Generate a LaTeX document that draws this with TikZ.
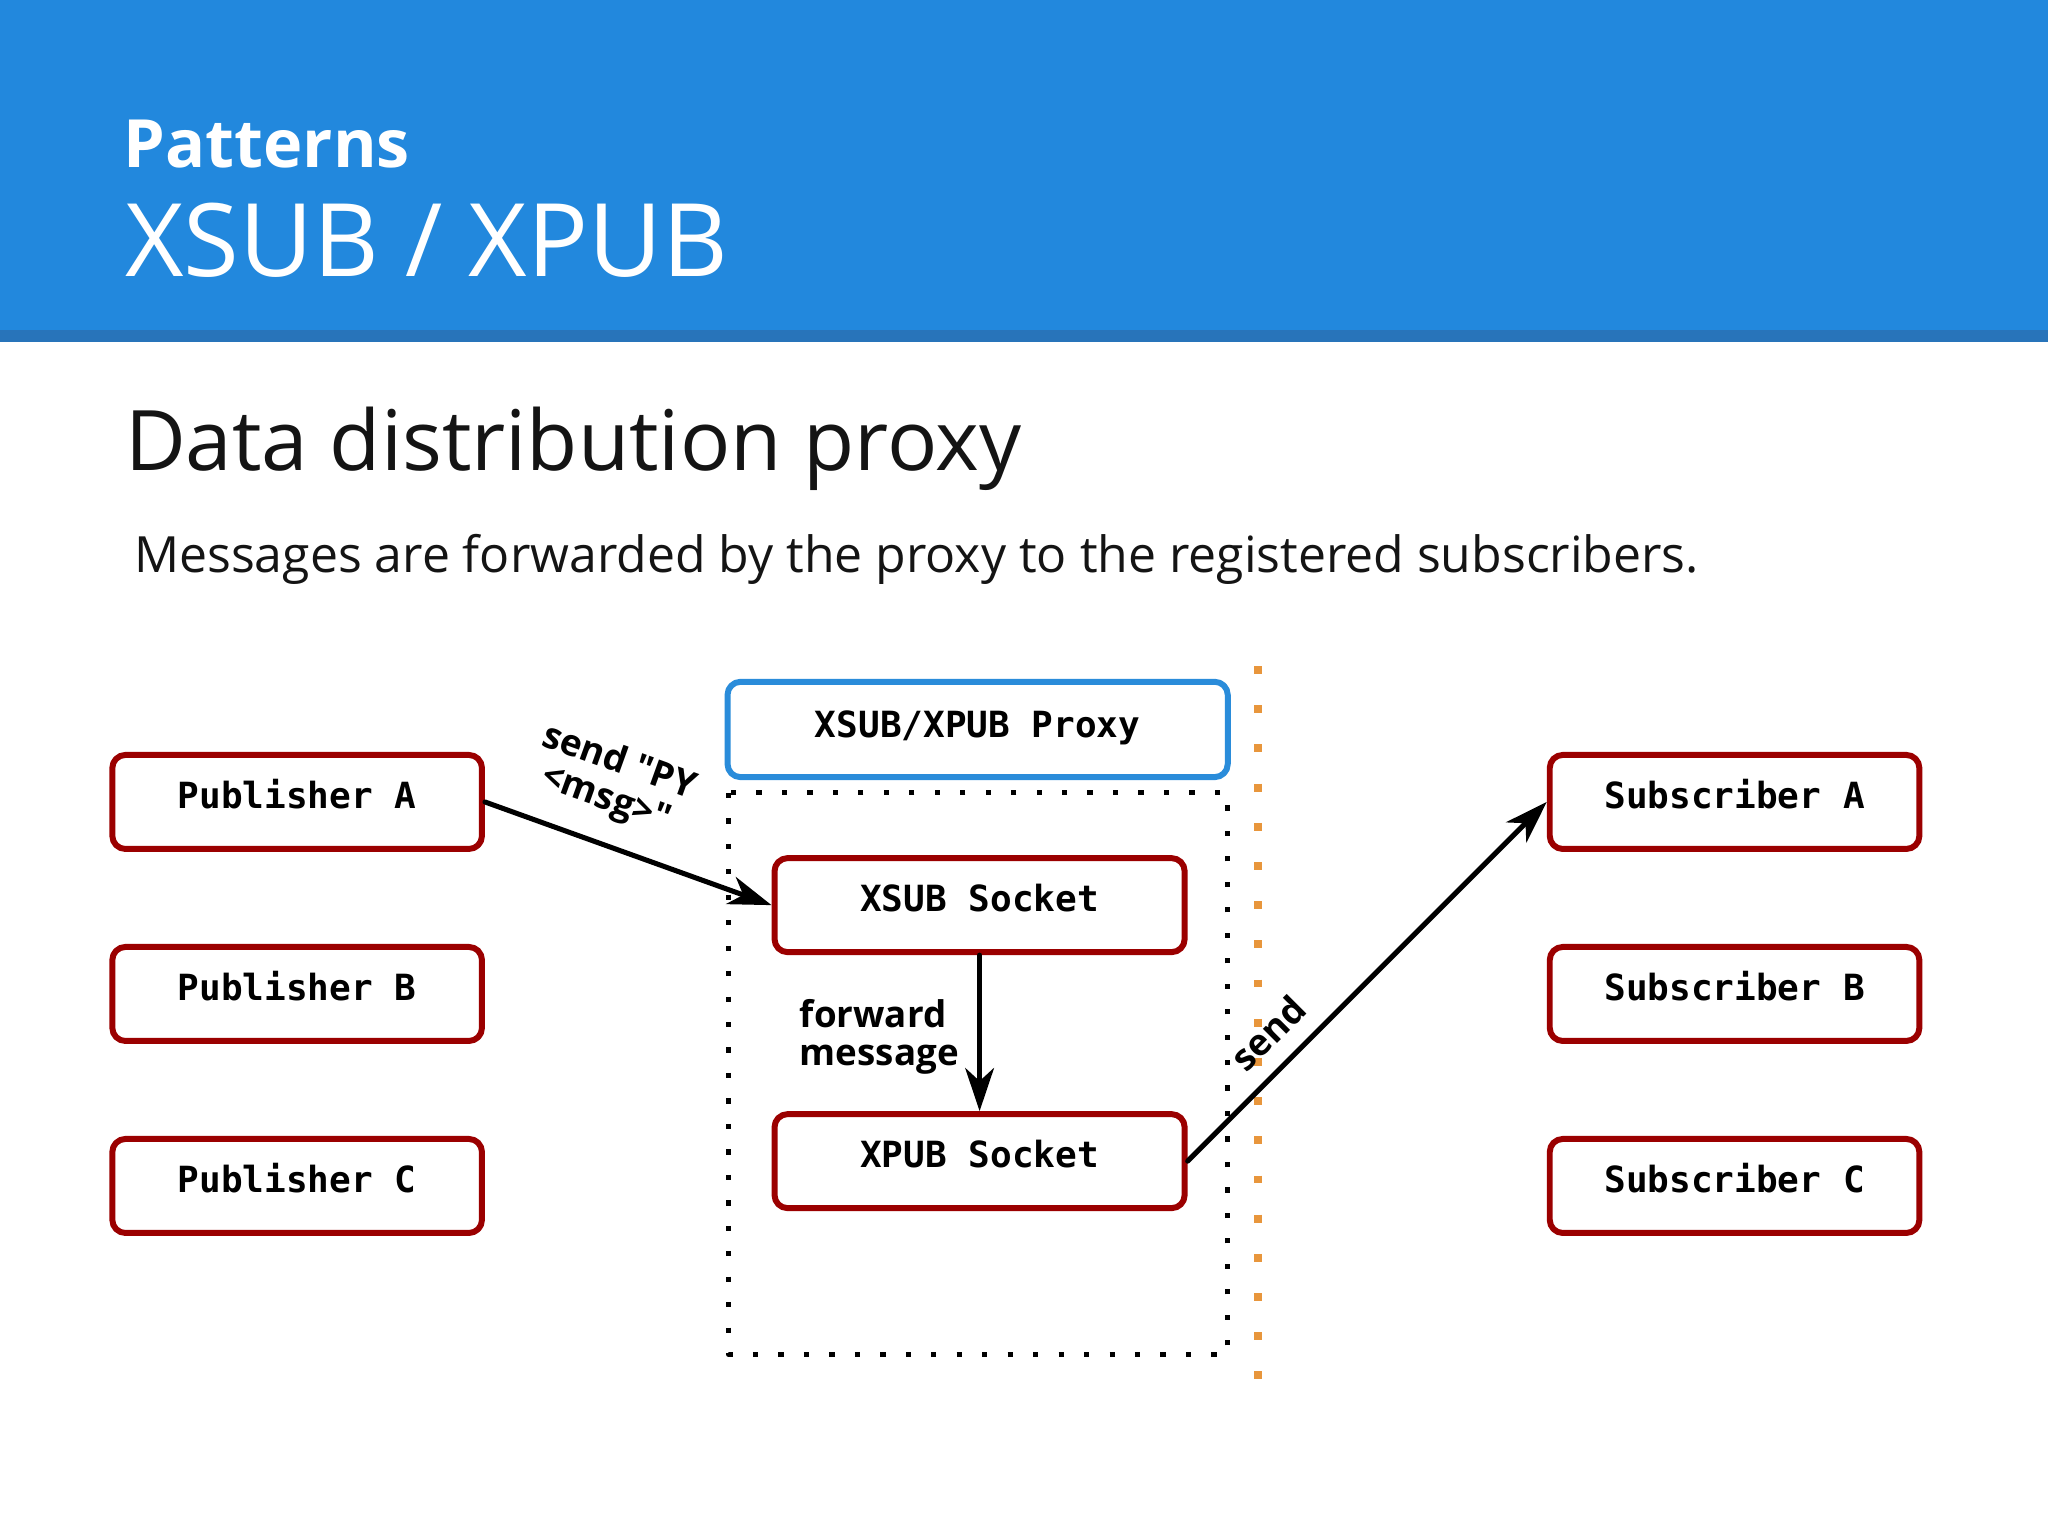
\documentclass[tikz,border=0pt]{standalone}
\usepackage{fontspec}
\setmainfont{Open Sans}
\newfontfamily\monofont{DejaVu Sans Mono}
\newfontfamily\labelfont{Open Sans}
\usetikzlibrary{arrows.meta}

\definecolor{headblue}{RGB}{34,136,221}
\definecolor{headstrip}{RGB}{40,116,186}
\definecolor{boxred}{RGB}{155,0,0}
\definecolor{proxyblue}{RGB}{42,140,218}
\definecolor{lineorange}{RGB}{232,150,60}
\definecolor{inktext}{RGB}{20,20,20}

\begin{document}
\begin{tikzpicture}[
			line cap=round,
			line join=round,
			nodebox/.style={draw=boxred, line width=1.3pt, rounded corners=0.1cm,
				minimum width=2.83cm, minimum height=0.72cm, inner sep=0pt,
				text height=0.2cm, text depth=0.1cm,
				font=\monofont\bfseries\fontsize{7.85}{9}\selectfont},
			socketbox/.style={nodebox, minimum width=3.14cm},
			proxybox/.style={nodebox, draw=proxyblue, minimum width=3.83cm, minimum height=0.73cm, text depth=0.08cm},
			flow/.style={-{Stealth[length=0.33cm, width=0.22cm, inset=0.1cm]}, line width=1.1pt},
			lbl/.style={font=\labelfont\bfseries\fontsize{8}{8.4}\selectfont, inner sep=2pt}
			]
			\useasboundingbox (0,0) rectangle (15.68,-11.76);
			\fill[white] (0,0) rectangle (15.68,-11.76);
			
			% slide header
			\fill[headblue] (0,0) rectangle (15.68,-2.53);
			\fill[headstrip] (0,-2.53) rectangle (15.68,-2.62);
			\node[anchor=base west, inner sep=0pt, text=white, font=\bfseries\fontsize{14.5}{17}\selectfont] (kicker) at (0.94,-1.28) {Patterns};
			\node[anchor=base west, inner sep=0pt, text=white, font=\fontsize{22.1}{26}\selectfont] (title) at (0.95,-2.12) {XSUB / XPUB};
			
			\node[anchor=base west, inner sep=0pt, text=inktext, font=\fontsize{18.2}{22}\selectfont] (heading) at (0.95,-3.60) {Data distribution proxy};
			\node[anchor=base west, inner sep=0pt, text=inktext, font=\fontsize{10.88}{13}\selectfont] (lead) at (1.02,-4.38) {Messages are forwarded by the proxy to the registered subscribers.};
			
			% publishers
			\node[nodebox] (pubA) at (2.275,-6.14) {Publisher A};
			\node[nodebox] (pubB) at (2.275,-7.61) {Publisher B};
			\node[nodebox] (pubC) at (2.275,-9.08) {Publisher C};
			
			% proxy
			\node[proxybox] (proxy) at (7.485,-5.585) {XSUB/XPUB Proxy};
			\draw[line width=0.04cm, line cap=butt, dash pattern=on 0.04cm off 0.155cm] (5.58,-6.07) rectangle (9.40,-10.37);
			\node[socketbox] (xsub) at (7.50,-6.93) {XSUB Socket};
			\node[socketbox] (xpub) at (7.50,-8.89) {XPUB Socket};
			
			\draw[lineorange, line width=0.06cm, line cap=butt, dash pattern=on 0.06cm off 0.24cm] (9.63,-5.10) -- (9.63,-10.58);
			
			% subscribers
			\node[nodebox] (subA) at (13.28,-6.14) {Subscriber A};
			\node[nodebox] (subB) at (13.28,-7.61) {Subscriber B};
			\node[nodebox] (subC) at (13.28,-9.08) {Subscriber C};
			
			% messages
			\draw[flow] (pubA.east) -- node[lbl, sloped, above, pos=0.37, align=center, yshift=0.1cm] {send "PY\\<msg>"} (xsub.west);
			\draw[flow] (xsub.south) -- node[lbl, left, align=left, xshift=-0.07cm, yshift=-0.03cm] {forward\\message} (xpub.north);
			\draw[flow] (xpub.east) -- node[lbl, sloped, above, pos=0.29, yshift=0.06cm] {send} (subA.west);
		\end{tikzpicture}
\end{document}
